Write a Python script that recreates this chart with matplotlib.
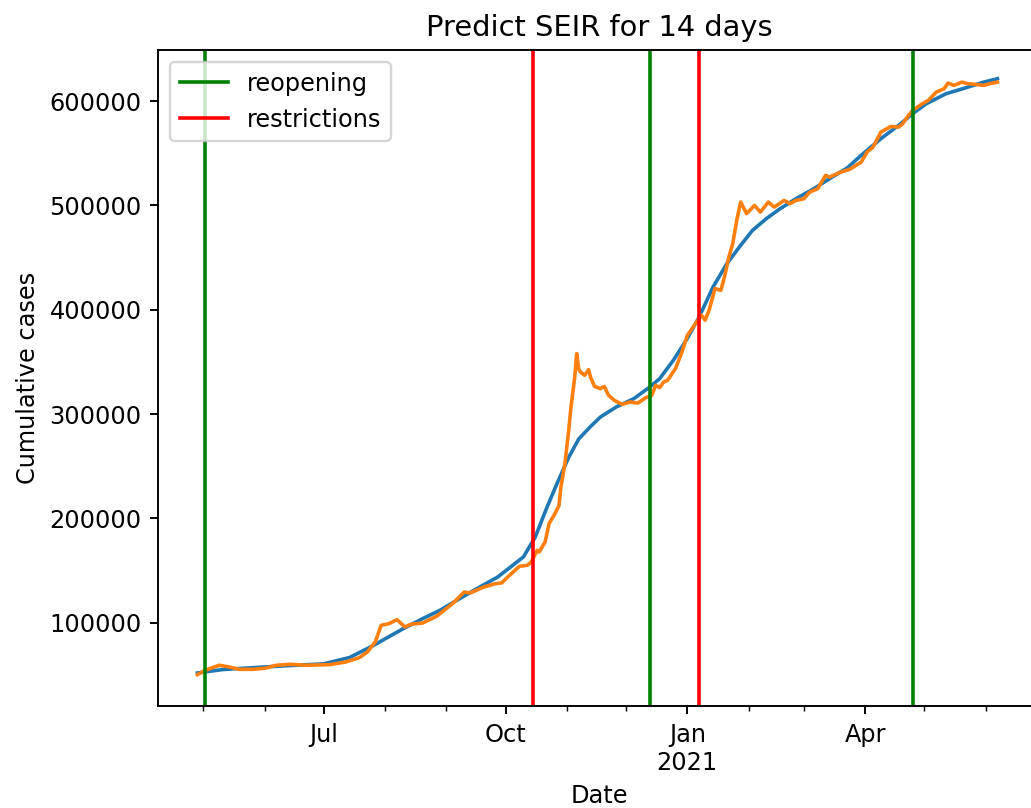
import matplotlib
matplotlib.use("Agg")
import matplotlib.pyplot as plt
import matplotlib.dates as mdates
import pandas as pd

# observed cumulative cases
actual_dates = [
    "2020-04-28", "2020-05-02", "2020-05-09", "2020-05-14", "2020-05-19", "2020-05-26",
    "2020-06-01", "2020-06-07", "2020-06-14", "2020-06-22", "2020-07-04", "2020-07-12",
    "2020-07-19", "2020-07-23", "2020-07-27", "2020-07-30", "2020-08-03", "2020-08-07",
    "2020-08-11", "2020-08-14", "2020-08-20", "2020-08-27", "2020-09-02", "2020-09-05",
    "2020-09-10", "2020-09-13", "2020-09-20", "2020-09-26", "2020-09-29", "2020-10-03",
    "2020-10-08", "2020-10-12", "2020-10-14", "2020-10-17", "2020-10-18", "2020-10-21",
    "2020-10-23", "2020-10-26", "2020-10-28", "2020-10-29", "2020-10-31", "2020-11-02",
    "2020-11-03", "2020-11-05", "2020-11-06", "2020-11-07", "2020-11-08", "2020-11-10",
    "2020-11-12", "2020-11-13", "2020-11-15", "2020-11-18", "2020-11-20", "2020-11-22",
    "2020-11-25", "2020-11-29", "2020-12-03", "2020-12-07", "2020-12-11", "2020-12-14",
    "2020-12-16", "2020-12-18", "2020-12-20", "2020-12-22", "2020-12-26", "2020-12-29",
    "2021-01-01", "2021-01-06", "2021-01-08", "2021-01-10", "2021-01-12", "2021-01-15",
    "2021-01-18", "2021-01-20", "2021-01-22", "2021-01-24", "2021-01-26", "2021-01-28",
    "2021-01-31", "2021-02-04", "2021-02-07", "2021-02-11", "2021-02-14", "2021-02-19",
    "2021-02-22", "2021-02-25", "2021-03-01", "2021-03-04", "2021-03-08", "2021-03-12",
    "2021-03-14", "2021-03-19", "2021-03-24", "2021-03-26", "2021-03-30", "2021-04-02",
    "2021-04-05", "2021-04-09", "2021-04-14", "2021-04-18", "2021-04-20", "2021-04-23",
    "2021-04-25", "2021-04-30", "2021-05-03", "2021-05-07", "2021-05-11", "2021-05-13",
    "2021-05-16", "2021-05-20", "2021-05-23", "2021-05-27", "2021-05-31", "2021-06-03",
    "2021-06-07",
]
actual_cases = [
    50150, 54300, 59100, 57500, 55200, 55200,
    56200, 59100, 60000, 59100, 59700, 62200,
    66400, 71800, 81400, 97400, 99000, 102900,
    95800, 98400, 99600, 106000, 115000, 119700,
    129300, 128400, 134100, 137400, 138000, 145300,
    154000, 154900, 158100, 169300, 167700, 177300,
    194900, 204500, 212000, 230000, 252000, 285000,
    305000, 335400, 357900, 343000, 340200, 337100,
    342500, 335400, 326500, 324300, 326500, 318200,
    313100, 309300, 311500, 310500, 315700, 317900,
    327500, 325300, 330600, 332300, 343500, 357900,
    375400, 389000, 395000, 390000, 399400, 420200,
    418600, 432900, 450500, 463300, 485600, 503200,
    492100, 500000, 493600, 503200, 498400, 504800,
    501700, 504800, 506400, 512800, 516000, 528800,
    527100, 531500, 534500, 536700, 541500, 551100,
    555900, 570300, 575700, 575100, 578300, 586300,
    591100, 597500, 600700, 608600, 611900, 617300,
    615100, 618200, 616700, 616000, 615100, 616700,
    618200,
]

# SEIR model fit
model_dates = [
    "2020-04-28", "2020-05-02", "2020-05-11", "2020-06-01", "2020-07-01", "2020-07-14",
    "2020-07-26", "2020-08-10", "2020-08-20", "2020-08-29", "2020-09-02", "2020-09-15",
    "2020-09-27", "2020-10-10", "2020-10-16", "2020-10-22", "2020-10-27", "2020-11-02",
    "2020-11-07", "2020-11-13", "2020-11-18", "2020-11-26", "2020-12-05", "2020-12-13",
    "2020-12-18", "2020-12-25", "2021-01-01", "2021-01-07", "2021-01-14", "2021-01-21",
    "2021-01-28", "2021-02-03", "2021-02-10", "2021-02-17", "2021-02-25", "2021-03-06",
    "2021-03-14", "2021-03-23", "2021-03-30", "2021-04-09", "2021-04-19", "2021-04-25",
    "2021-05-02", "2021-05-12", "2021-05-23", "2021-05-31", "2021-06-07",
]
model_cases = [
    51700, 52800, 55000, 57500, 60500, 66500,
    78000, 94000, 103800, 112000, 116600, 131000,
    143700, 162900, 182000, 210800, 233200, 258700,
    276000, 288000, 297100, 306700, 314800, 325900,
    333900, 351700, 372500, 393000, 421700, 444100,
    461700, 476100, 487300, 496900, 506400, 516000,
    525600, 536000, 548000, 564000, 578300, 587900,
    597500, 607100, 613400, 618200, 621500,
]

reopening = ["2020-05-02", "2020-12-13", "2021-04-25"]
restrictions = ["2020-10-15", "2021-01-07"]

dpi = 173
fig = plt.figure(figsize=(1031 / dpi, 808 / dpi), dpi=dpi)
# the axes run a little past the right edge of the canvas
ax = fig.add_axes([0.1536, 0.1262, 0.856, 0.8119])

ax.plot(pd.to_datetime(model_dates), model_cases, color="tab:blue")
ax.plot(pd.to_datetime(actual_dates), actual_cases, color="tab:orange")

for i, d in enumerate(reopening):
    ax.axvline(pd.Timestamp(d), color="green", label="reopening" if i == 0 else None)
for i, d in enumerate(restrictions):
    ax.axvline(pd.Timestamp(d), color="red", label="restrictions" if i == 0 else None)


def month_label(x, pos=None):
    d = mdates.num2date(x)
    s = d.strftime("%b")
    if d.month == 1:
        s += "\n" + str(d.year)
    return s


ax.set_xlim(pd.Timestamp("2020-04-08 05:00"), pd.Timestamp("2021-06-29"))
ax.set_ylim(20000, 649000)
ax.xaxis.set_major_locator(mdates.MonthLocator(bymonth=[1, 4, 7, 10]))
ax.xaxis.set_minor_locator(mdates.MonthLocator())
ax.xaxis.set_major_formatter(plt.FuncFormatter(month_label))

ax.set_title("Predict SEIR for 14 days")
ax.set_xlabel("Date")
ax.set_ylabel("Cumulative cases")
ax.legend(loc="upper left")

fig.savefig("out.png", dpi=dpi)
